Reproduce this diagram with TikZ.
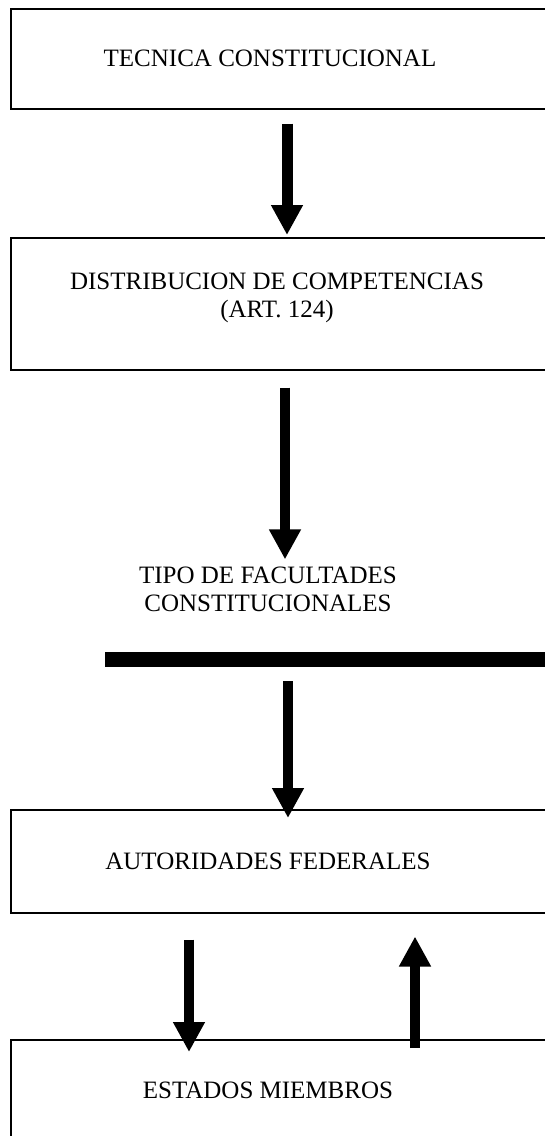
\documentclass[tikz,border=0pt]{standalone}
\usepackage{fontspec}
\setmainfont{Liberation Serif}
\usetikzlibrary{arrows.meta}
\tikzset{
  boxframe/.style={draw=black, line width=1.5pt, rectangle, anchor=north west, minimum width=560pt, inner sep=0pt},
  lbl/.style={font=\fontsize{25}{28}\selectfont, align=center, inner sep=0pt},
  arr/.style={line width=10pt, -{Triangle[width=30pt,length=30pt]}},
  thickbar/.style={line width=15pt}
}
\begin{document}
\begin{tikzpicture}[x=1pt,y=-1pt]
\useasboundingbox (0,0) rectangle (545,1136);
\clip (0,0) rectangle (545,1136);
% boxes
\node[boxframe, minimum height=100pt] (b1) at (10,8) {};
\node[boxframe, minimum height=132pt] (b2) at (10,237) {};
\node[boxframe, minimum height=103pt] (b3) at (10,809) {};
\node[boxframe, minimum height=140pt] (b4) at (10,1039) {};
% labels
\node[lbl] (t1) at (270,58) {TECNICA CONSTITUCIONAL};
\node[lbl] (t2) at (277,298) {DISTRIBUCION DE COMPETENCIAS\\(ART. 124)};
\node[lbl] (t3) at (268,589) {TIPO DE FACULTADES\\CONSTITUCIONALES};
\node[lbl] (t4) at (268,861) {AUTORIDADES FEDERALES};
\node[lbl] (t5) at (268,1090) {ESTADOS MIEMBROS};
% bar
\coordinate (barL) at (105,659.5);
\coordinate (barR) at (560,659.5);
\draw[thickbar] (barL) -- (barR);
% arrow x positions
\coordinate (c1) at (287,0);
\coordinate (c2) at (285,0);
\coordinate (c3) at (288,0);
\coordinate (c4) at (189,0);
\coordinate (c5) at (415,0);
% arrows
\draw[arr, line width=11pt, shorten <=14pt, shorten >=2pt] (b1.south -| c1) -- (b2.north -| c1);
\draw[arr, shorten <=17pt, shorten >=7pt] (b2.south -| c2) -- (t3.north -| c2);
\draw[arr, shorten <=21.5pt, shorten >=-9pt] (barL -| c3) -- (b3.north -| c3);
\draw[arr, shorten <=26pt, shorten >=-13pt] (b3.south -| c4) -- (b4.north -| c4);
\draw[arr, shorten <=-9pt, shorten >=23pt] (b4.north -| c5) -- (b3.south -| c5);
\end{tikzpicture}
\end{document}
